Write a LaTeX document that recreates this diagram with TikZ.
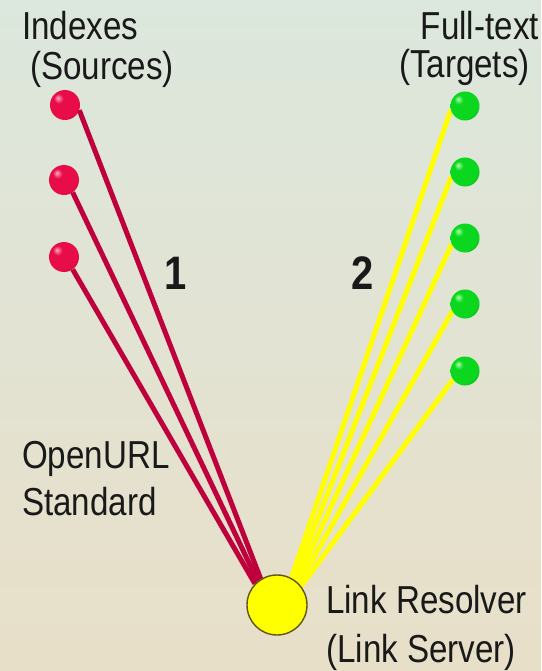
\documentclass[tikz,border=0pt]{standalone}
\usepackage{fontspec}
\setmainfont{Liberation Sans}
\usetikzlibrary{backgrounds}
\definecolor{bgtop}{RGB}{220,231,221}
\definecolor{bgbot}{RGB}{232,223,200}
\definecolor{redhi}{RGB}{255,170,200}
\definecolor{redmid}{RGB}{232,12,72}
\definecolor{redlo}{RGB}{120,0,35}
\definecolor{greenhi}{RGB}{170,255,170}
\definecolor{greenmid}{RGB}{10,215,30}
\definecolor{greenlo}{RGB}{0,95,10}
\definecolor{linkred}{RGB}{190,0,60}
\definecolor{linkyellow}{RGB}{255,255,0}
\definecolor{rimolive}{RGB}{95,85,20}
\definecolor{labeltext}{RGB}{25,25,25}
% glossy ball shadings, highlight up and to the left
\pgfdeclareradialshading{redball}{\pgfpoint{-12bp}{12bp}}{%
  color(0bp)=(redhi); color(8bp)=(redmid); color(30bp)=(redmid);
  color(52bp)=(redlo); color(80bp)=(redlo)}
\pgfdeclareradialshading{greenball}{\pgfpoint{-12bp}{12bp}}{%
  color(0bp)=(greenhi); color(8bp)=(greenmid); color(30bp)=(greenmid);
  color(52bp)=(greenlo); color(80bp)=(greenlo)}
\newcommand{\lbl}[1]{\scalebox{0.85}[1]{\fontsize{39}{44}\selectfont #1}}
\newcommand{\num}[1]{\scalebox{0.85}[1]{\fontsize{47}{52}\selectfont\bfseries #1}}
\tikzset{
  srcball/.style={circle, minimum size=30pt, inner sep=0pt, shading=redball},
  tgtball/.style={circle, minimum size=29pt, inner sep=0pt, shading=greenball},
  resolver/.style={circle, minimum size=60pt, inner sep=0pt, fill=linkyellow, draw=rimolive, line width=1.4pt},
  redlink/.style={draw=linkred, line width=5pt},
  yellowlink/.style={draw=linkyellow, line width=5pt},
  txt/.style={inner sep=0pt, text=labeltext},
}
\begin{document}
\begin{tikzpicture}[x=1pt, y=-1pt]
  \useasboundingbox (0,0) rectangle (541,671);
  \begin{scope}[on background layer]
    \shade[top color=bgtop, bottom color=bgbot] (0,0) rectangle (541,671);
  \end{scope}

  % sources, targets and the resolver
  \node[srcball] (s1) at (65,105) {};
  \node[srcball] (s2) at (64,180) {};
  \node[srcball] (s3) at (64,257) {};
  \node[tgtball] (t1) at (465,106) {};
  \node[tgtball] (t2) at (465,172) {};
  \node[tgtball] (t3) at (465,238) {};
  \node[tgtball] (t4) at (465,304) {};
  \node[tgtball] (t5) at (465,371) {};
  \node[resolver] (r) at (277,605) {};

  % connectors, kept under the balls
  \begin{scope}[on background layer]
    \draw[redlink] (s1.-20) -- (r.122);
    \draw[redlink] (s2.-55) -- (r.129);
    \draw[redlink] (s3.-55) -- (r.136);
    \draw[yellowlink] (t1.195) -- (r.62);
    \draw[yellowlink] (t2.200) -- (r.56);
    \draw[yellowlink] (t3.205) -- (r.50);
    \draw[yellowlink] (t4.210) -- (r.44);
    \draw[yellowlink] (t5.215) -- (r.38);
  \end{scope}

  % labels
  \node[txt, anchor=base west] (idx) at (22,40) {\lbl{Indexes}};
  \node[txt, anchor=base west] (src) at (30,80) {\lbl{(Sources)}};
  \node[txt, anchor=base east] (ft) at (539,40) {\lbl{Full-text}};
  \node[txt, anchor=base east] (tg) at (530,78) {\lbl{(Targets)}};
  \node[txt, anchor=base west] (ou) at (22,468) {\lbl{OpenURL}};
  \node[txt, anchor=base west] (std) at (22,515) {\lbl{Standard}};
  \node[txt, anchor=base west] (lr) at (326,613) {\lbl{Link Resolver}};
  \node[txt, anchor=base west] (ls) at (326,662) {\lbl{(Link Server)}};
  \node[txt] (n1) at (176,273) {\num{1}};
  \node[txt] (n2) at (363,273) {\num{2}};
\end{tikzpicture}
\end{document}
